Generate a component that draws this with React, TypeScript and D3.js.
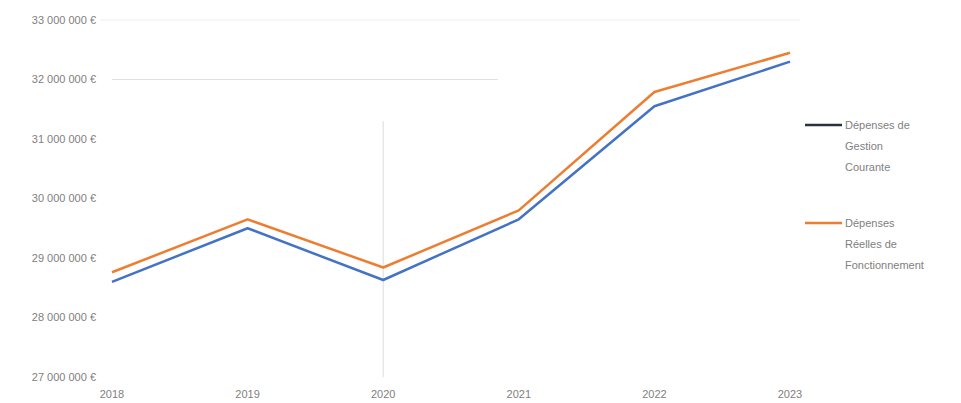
import React from "react";
import * as d3 from "d3";

const years = ["2018", "2019", "2020", "2021", "2022", "2023"];
const gestionCourante = [28600000, 29500000, 28630000, 29650000, 31550000, 32300000];
const reellesFonct = [28760000, 29650000, 28840000, 29800000, 31790000, 32450000];
const yTicks = [27000000, 28000000, 29000000, 30000000, 31000000, 32000000, 33000000];
const gridValues = [32000000, 33000000];
const seriesNames = [
  ["Dépenses de", "Gestion", "Courante"],
  ["Dépenses", "Réelles de", "Fonctionnement"],
];

const W = 961;
const H = 403;

function fmt(v: number) {
  const s = String(v).replace(/\B(?=(\d{3})+(?!\d))/g, " ");
  return s + " €";
}

export default function App() {
  const x = d3.scalePoint<string>().domain(years).range([112, 790]);
  const y = d3.scaleLinear().domain([27000000, 33000000]).range([377, 20]);
  const line = d3
    .line<number>()
    .x((_, i) => x(years[i]) as number)
    .y((d) => y(d));
  const colors = ["#4472C4", "#ED7D31"];
  const legendColors = ["#2b3140", "#ED7D31"];
  const series = [gestionCourante, reellesFonct];
  const font = "'Liberation Sans', Arial, sans-serif";

  return (
    <svg width={W} height={H} style={{ position: "absolute", left: 0, top: 0, background: "#fff" }}>
      <rect width={W} height={H} fill="#fff" />
      {gridValues.map((g) => (
        <line key={g} x1={g === 32000000 ? 112 : 100} x2={g === 32000000 ? 498 : 800} y1={y(g)} y2={y(g)} stroke={g === 32000000 ? "#e0e0e0" : "#f0f0f0"} strokeWidth={1} />
      ))}
      <line x1={x("2020")} x2={x("2020")} y1={y(31300000)} y2={y(27000000)} stroke="#dcdcdc" strokeWidth={1} />
      {yTicks.map((t) => (
        <text key={t} x={96} y={y(t)} dy="0.35em" textAnchor="end" fontSize={11} fill="#808080" fontFamily={font}>
          {fmt(t)}
        </text>
      ))}
      {years.map((yr) => (
        <text key={yr} x={x(yr)} y={398} textAnchor="middle" fontSize={11} fill="#808080" fontFamily={font}>
          {yr}
        </text>
      ))}
      {series.map((s, i) => (
        <path key={i} d={line(s) || ""} fill="none" stroke={colors[i]} strokeWidth={2.5} strokeLinejoin="round" />
      ))}
      {seriesNames.map((lines, i) => {
        const top = i === 0 ? 125 : 223;
        return (
          <g key={i}>
            <line x1={805} x2={842} y1={top} y2={top} stroke={legendColors[i]} strokeWidth={2.5} />
            {lines.map((l, j) => (
              <text key={j} x={845} y={top + j * 21} dy="0.35em" fontSize={11} fill="#808080" fontFamily={font}>
                {l}
              </text>
            ))}
          </g>
        );
      })}
    </svg>
  );
}
